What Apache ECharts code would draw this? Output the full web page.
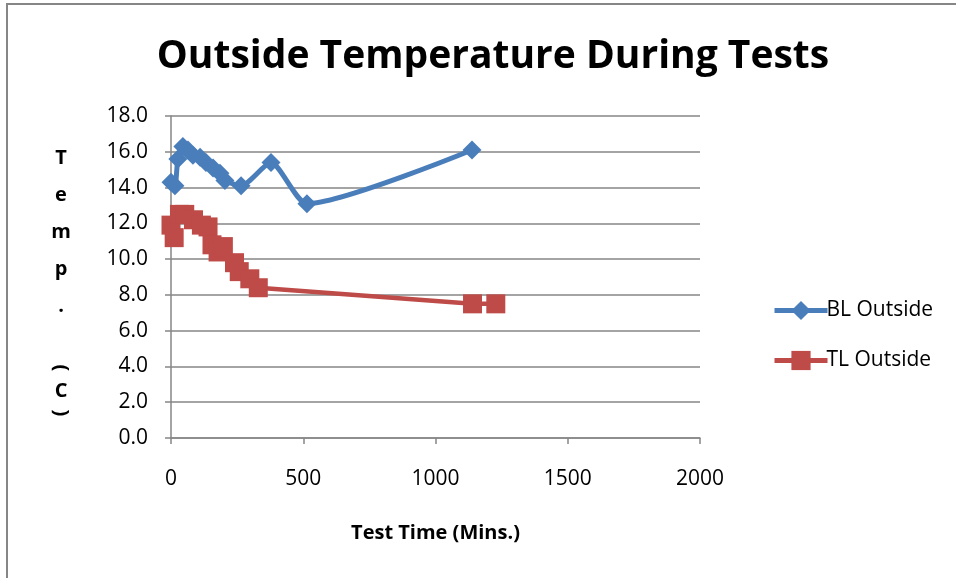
<!DOCTYPE html>
<html>
<head>
<meta charset="utf-8">
<script src="https://cdn.jsdelivr.net/npm/echarts@6/dist/echarts.min.js"></script>
<style>
  html, body { margin: 0; padding: 0; background: #fff; }
  #chart { width: 956px; height: 578px; }
</style>
</head>
<body>
<div id="chart"></div>
<script>
// Outside temperature readings (deg C) against elapsed test time (minutes)
const blTime = [0, 15, 26, 45, 64, 83, 110, 132, 159, 185, 204, 265, 378, 514, 1138];
const blTemp = [14.3, 14.1, 15.6, 16.3, 16.1, 15.8, 15.7, 15.4, 15.1, 14.8, 14.4, 14.1, 15.4, 13.1, 16.1];

const tlTime = [0, 12, 32, 52, 85, 115, 140, 155, 178, 198, 240, 258, 298, 330, 1140, 1228];
const tlTemp = [11.9, 11.2, 12.5, 12.5, 12.2, 11.9, 11.8, 10.8, 10.4, 10.7, 9.8, 9.3, 8.9, 8.4, 7.5, 7.5];

const xTicks = [0, 500, 1000, 1500, 2000];
const yMax = 18.0;

const seriesNames = ['BL Outside', 'TL Outside'];
const titleText = 'Outside Temperature During Tests';
const xName = 'Test Time (Mins.)';
// vertical axis caption, one glyph per line; the brackets are turned sideways
const yNameTop = 'T\ne\nm\np\n.';
const yNameUnit = ['(', 'C', ')'];

const zip = (a, b) => a.map((v, i) => [v, b[i]]);

const font = '"Open Sans", "Liberation Sans", sans-serif';
const grey = '#868686';
const blue = '#4a7ebb';
const red = '#be4b48';

const chart = echarts.init(document.getElementById('chart'), null, { renderer: 'canvas' });

const captionFont = 'bold 20px ' + font;
const unitY = [368, 391, 413];

chart.setOption({
  animation: false,
  backgroundColor: '#fff',
  title: {
    text: titleText,
    left: 488,
    top: 32,
    textAlign: 'center',
    textStyle: { fontFamily: font, fontWeight: 'bold', fontSize: 39, color: '#000' }
  },
  graphic: [
    { type: 'rect', shape: { x: 7, y: 4, width: 960, height: 590 },
      style: { fill: 'none', stroke: grey, lineWidth: 2 }, silent: true },
    { type: 'text', x: 61, y: 140,
      style: { text: yNameTop, font: captionFont, lineHeight: 37, align: 'center', fill: '#000' } }
  ].concat(yNameUnit.map((ch, i) => ({
    type: 'text',
    x: 61,
    y: unitY[i],
    rotation: ch === 'C' ? 0 : -Math.PI / 2,
    style: { text: ch, font: captionFont, align: 'center', verticalAlign: 'middle', fill: '#000' }
  }))),
  legend: {
    orient: 'vertical',
    left: 767,
    top: 295,
    itemGap: 29,
    itemWidth: 53,
    itemHeight: 24,
    lineStyle: { width: 5 },
    textStyle: { fontFamily: font, fontSize: 21, color: '#000', padding: [0, 0, 0, -6] },
    data: seriesNames
  },
  grid: { left: 171, right: 256, top: 116, bottom: 140, containLabel: false },
  xAxis: {
    type: 'value',
    min: xTicks[0],
    max: xTicks[xTicks.length - 1],
    interval: 500,
    name: xName,
    nameLocation: 'middle',
    nameGap: 85,
    nameTextStyle: { fontFamily: font, fontWeight: 'bold', fontSize: 20, color: '#000' },
    axisLine: { onZero: false, lineStyle: { color: grey, width: 1.5 } },
    axisTick: { show: true, length: 6, lineStyle: { color: grey, width: 1.5 } },
    axisLabel: { fontFamily: font, fontSize: 21, color: '#000', margin: 31,
      formatter: v => String(v) },
    splitLine: { show: false }
  },
  yAxis: {
    type: 'value',
    min: 0,
    max: yMax,
    interval: 2,
    axisLine: { show: true, lineStyle: { color: grey, width: 1.5 } },
    axisTick: { show: true, length: 6, lineStyle: { color: grey, width: 1.5 } },
    axisLabel: { fontFamily: font, fontSize: 21, color: '#000', margin: 23,
      formatter: v => v.toFixed(1) },
    splitLine: { show: true, lineStyle: { color: grey, width: 1.5 } }
  },
  series: [
    {
      name: seriesNames[0],
      type: 'line',
      data: zip(blTime, blTemp),
      smooth: 0.22,
      symbol: 'diamond',
      symbolSize: 19,
      lineStyle: { color: blue, width: 5 },
      itemStyle: { color: blue },
      z: 3
    },
    {
      name: seriesNames[1],
      type: 'line',
      data: zip(tlTime, tlTemp),
      smooth: false,
      symbol: 'rect',
      symbolSize: 19,
      lineStyle: { color: red, width: 4.5 },
      itemStyle: { color: red },
      z: 2
    }
  ]
});
</script>
</body>
</html>
